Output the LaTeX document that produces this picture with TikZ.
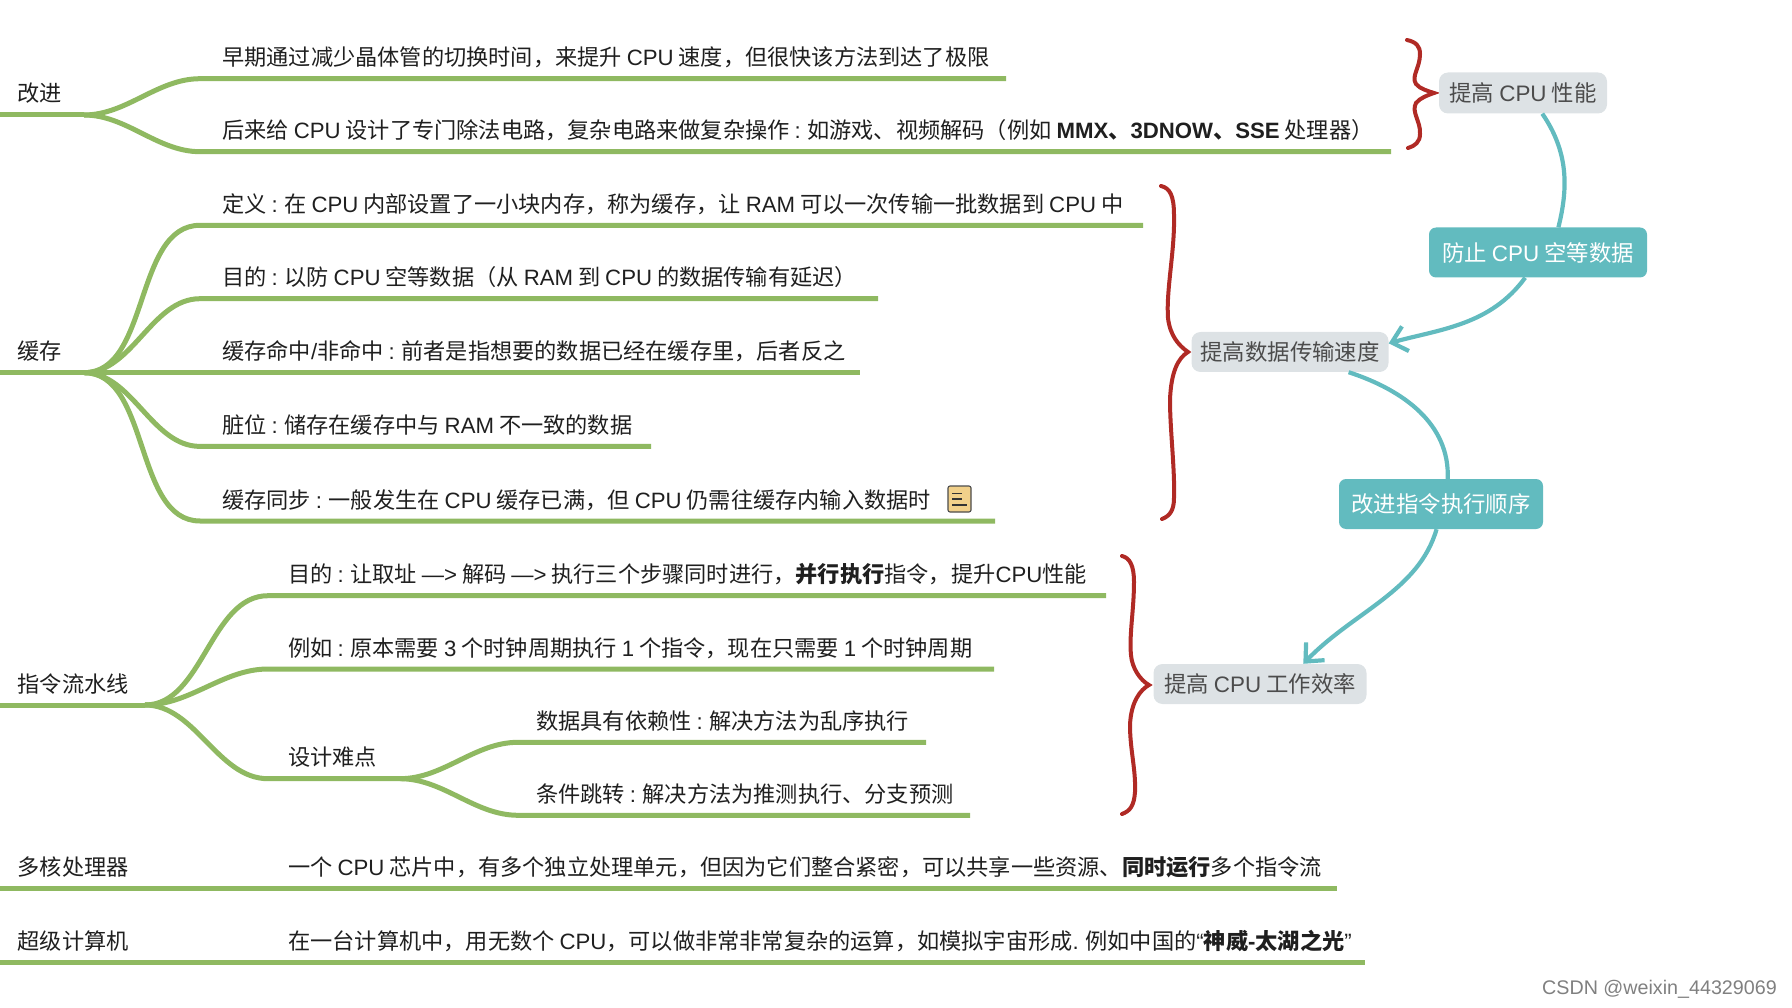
\documentclass[tikz,border=0pt]{standalone}
\usepackage{fontspec}
\setmainfont{Noto Sans CJK SC}
\newfontfamily\enfont{Liberation Sans}
\newcommand{\en}[1]{{\enfont #1}}
\usepackage{xcolor}
\definecolor{mapgreen}{HTML}{8FB961}
\definecolor{mapteal}{HTML}{62BBBF}
\definecolor{mapred}{HTML}{B02A25}
\definecolor{mapgrey}{HTML}{DDE2E5}
\definecolor{mapnote}{HTML}{F1D08A}
\usetikzlibrary{arrows.meta}

\begin{document}
\begin{tikzpicture}[
  x=1pt, y=-1pt,
  font=\fontsize{22.2}{26}\selectfont,
  branch/.style={line width=5pt, mapgreen},
  txt/.style={anchor=base west, inner sep=0pt, text=black!88},
  tag/.style={rectangle, rounded corners=9pt, fill=mapgrey, text=black!70, inner sep=0pt, font=\fontsize{22.4}{26}\selectfont},
  cause/.style={rectangle, rounded corners=7pt, fill=mapteal, text=white, inner sep=0pt, font=\fontsize{22.4}{26}\selectfont},
  link/.style={line width=4.2pt, mapteal},
  brace/.style={line width=4pt, mapred, line cap=round},
  tip/.style={-{Straight Barb[length=5mm,width=9mm]}},
]
\useasboundingbox (0,0) rectangle (1792,1008);

% ---------- the roots
\coordinate (ga) at (84,115);
\coordinate (gb) at (84,372.7);
\coordinate (gc) at (145,705);
\coordinate (gs) at (400,778.7);
\foreach \rt/\yy/\t in {ga/115/{改进},gb/372.7/{缓存},gc/705/{指令流水线}} {
  \draw[branch] (0,\yy) -- (\rt);
  \node[txt] (\rt t) at (17.5,\yy-13) {\t};
}

% ---------- the branches, each with its text above the line
\foreach \rt/\nm/\xc/\xt/\yy/\xe/\t in {
  ga/a1/200/222/78.7/1006/{早期通过减少晶体管的切换时间，来提升 \en{CPU} 速度，但很快该方法到达了极限},
  ga/a2/200/222/151.7/1391/{后来给 \en{CPU} 设计了专门除法电路，复杂电路来做复杂操作 \en{:} 如游戏、视频解码（例如 \textbf{\en{MMX}、\en{3DNOW}、\en{SSE}} 处理器）},
  gb/b1/200/222/225.3/1143/{定义 \en{:} 在 \en{CPU} 内部设置了一小块内存，称为缓存，让 \en{RAM} 可以一次传输一批数据到 \en{CPU} 中},
  gb/b2/200/222/298.7/878/{目的 \en{:} 以防 \en{CPU} 空等数据（从 \en{RAM} 到 \en{CPU} 的数据传输有延迟）},
  gb/b3/200/222/372.7/860/{缓存命中\en{/}非命中 \en{:} 前者是指想要的数据已经在缓存里，后者反之},
  gb/b4/200/222/446.4/651/{脏位 \en{:} 储存在缓存中与 \en{RAM} 不一致的数据},
  gb/b5/200/222/521/995/{缓存同步 \en{:} 一般发生在 \en{CPU} 缓存已满，但 \en{CPU} 仍需往缓存内输入数据时},
  gc/c1/268/288/595.7/1106/{目的 \en{:} 让取址 \en{—>} 解码 \en{—>} 执行三个步骤同时进行，\textbf{并行执行}指令，提升\en{CPU}性能},
  gc/c2/268/288/669/994/{例如 \en{:} 原本需要 \en{3} 个时钟周期执行 \en{1} 个指令，现在只需要 \en{1} 个时钟周期},
  gc/c3/268/288/778.7/400/{设计难点},
  gs/s1/518/536/742.3/926/{数据具有依赖性 \en{:} 解决方法为乱序执行},
  gs/s2/518/536/815.3/970/{条件跳转 \en{:} 解决方法为推测执行、分支预测}} {
  \coordinate (\nm c) at (\xc,\yy);
  \coordinate (\nm e) at (\xe,\yy);
  \draw[branch] (\rt) to[out=0,in=180,looseness=0.9] (\nm c) -- (\nm e);
  \node[txt] (\nm) at (\xt,\yy-13) {\t};
}

% ---------- the two straight rows
\foreach \nm/\yy/\xe/\h/\t in {
  d/888/1337/{多核处理器}/{一个 \en{CPU} 芯片中，有多个独立处理单元，但因为它们整合紧密，可以共享一些资源、\textbf{同时运行}多个指令流},
  e/962.5/1365/{超级计算机}/{在一台计算机中，用无数个 \en{CPU}，可以做非常非常复杂的运算，如模拟宇宙形成\en{.} 例如中国的\en{“}\textbf{神威\en{-}太湖之光}\en{”}}} {
  \coordinate (\nm s) at (0,\yy);
  \coordinate (\nm e) at (\xe,\yy);
  \draw[branch] (\nm s) -- (\nm e);
  \node[txt] (\nm h) at (17.5,\yy-13) {\h};
  \node[txt] (\nm t) at (288,\yy-13) {\t};
}

% ---------- the note icon
\node[rectangle, rounded corners=2pt, draw=black!70, line width=1.1pt, fill=mapnote,
      minimum width=23pt, minimum height=26pt, inner sep=0pt] (note) at (959.5,499) {};
\draw[line width=1.1pt, black!80] (952,493.5) -- (962,493.5) (952,499) -- (962,499) (952,505) -- (967,505);

% ---------- the braces
\draw[brace] (1407,40) .. controls (1416,42) and (1420,46) .. (1420,54)
  .. controls (1420,68) and (1411,76) .. (1416,84) .. controls (1420,89) and (1428,91) .. (1434,93)
  .. controls (1428,95) and (1420,98) .. (1416,103) .. controls (1411,112) and (1421,122) .. (1420,134)
  .. controls (1420,142) and (1415,146) .. (1408,148);
\draw[brace] (1161,186) .. controls (1170,188) and (1174,196) .. (1174,215)
  .. controls (1175,250) and (1166,290) .. (1168,318) .. controls (1170,335) and (1178,345) .. (1188,352)
  .. controls (1178,358) and (1171,372) .. (1170,400)
  .. controls (1170,430) and (1175,470) .. (1174,498) .. controls (1174,510) and (1170,516) .. (1162,519);
\draw[brace] (1122,556) .. controls (1130,558) and (1134,566) .. (1134,582)
  .. controls (1134,610) and (1129,635) .. (1131,655) .. controls (1132,668) and (1140,680) .. (1149,685)
  .. controls (1140,690) and (1131,702) .. (1130,725)
  .. controls (1130,750) and (1136,770) .. (1135,792) .. controls (1134,806) and (1130,811) .. (1122,814);

% ---------- the tags and the causes between them
\node[tag, minimum width=168pt, minimum height=41pt] (perf) at (1523,93) {提高 \en{CPU} 性能};
\node[tag, minimum width=197pt, minimum height=40pt] (speed) at (1290,352) {提高数据传输速度};
\node[tag, minimum width=213pt, minimum height=40pt] (eff) at (1260,684) {提高 \en{CPU} 工作效率};
\node[cause, minimum width=218pt, minimum height=50pt] (guard) at (1538,252.5) {防止 \en{CPU} 空等数据};
\node[cause, minimum width=204pt, minimum height=50pt] (order) at (1441,504) {改进指令执行顺序};

\draw[link] (perf.-47) .. controls +(26,38) and +(10,-40) .. (guard.51);
\draw[link,tip] (guard.-117) .. controls +(-35,48) and +(50,-14) .. (speed.5);
\draw[link] (speed.-19) .. controls +(55,18) and +(2,-55) .. (order.75);
\draw[link,tip] (order.-100) .. controls +(-18,62) and +(50,-52) .. (eff.25);

\node[inner sep=0pt, anchor=east, text=black!50] (mark) at (1777,989)
  {\fontsize{19.7}{24}\selectfont\en{CSDN @weixin\_44329069}};
\end{tikzpicture}
\end{document}
